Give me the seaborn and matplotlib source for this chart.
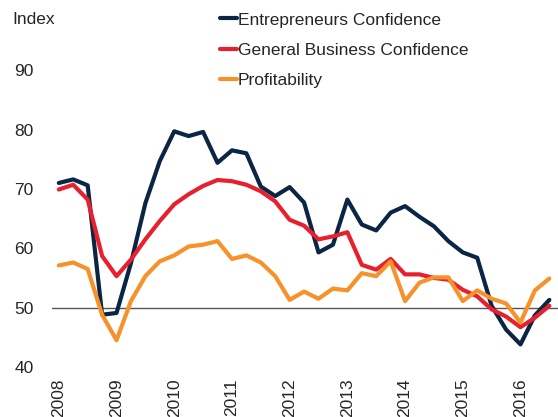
import pandas as pd
import matplotlib
matplotlib.use("Agg")
import matplotlib.pyplot as plt
import seaborn as sns

# quarterly data, 2008 Q1 .. 2016 Q3
quarters = [2008 + q / 4 for q in range(35)]

entrepreneurs = [71.0, 71.6, 70.6, 48.8, 49.1, 57.5, 67.6, 74.7, 79.7, 78.9,
                 79.6, 74.4, 76.5, 76.0, 70.4, 68.8, 70.3, 67.7, 59.3, 60.6,
                 68.2, 64.0, 63.0, 66.0, 67.1, 65.3, 63.7, 61.2, 59.3, 58.4,
                 50.3, 46.3, 43.8, 48.7, 51.3]
general_business = [69.9, 70.7, 68.2, 58.7, 55.3, 58.1, 61.5, 64.6, 67.4, 69.1,
                    70.5, 71.5, 71.3, 70.7, 69.6, 67.9, 64.8, 63.8, 61.5, 62.0,
                    62.7, 57.2, 56.4, 58.2, 55.6, 55.6, 55.0, 54.7, 53.0, 51.9,
                    49.7, 48.5, 46.7, 48.3, 50.3]
profitability = [57.1, 57.6, 56.5, 48.8, 44.5, 51.1, 55.3, 57.8, 58.8, 60.3,
                 60.6, 61.2, 58.2, 58.8, 57.6, 55.3, 51.3, 52.7, 51.5, 53.2,
                 52.9, 55.8, 55.3, 57.8, 51.1, 54.2, 55.1, 55.1, 51.1, 52.9,
                 51.5, 50.7, 47.5, 52.9, 54.9]

series_names = ["Entrepreneurs Confidence", "General Business Confidence", "Profitability"]
colors = ["#0b2545", "#e8202e", "#f7922a"]
years = list(range(2008, 2017))
y_ticks = [40, 50, 60, 70, 80, 90]

df = pd.DataFrame({
    "quarter": quarters * 3,
    "value": entrepreneurs + general_business + profitability,
    "series": [n for n in series_names for _ in quarters],
})

sns.set_style("white")
plt.rcParams["font.family"] = ["Liberation Sans", "DejaVu Sans"]

fig = plt.figure(figsize=(5.58, 4.17), dpi=100)
ax = fig.add_axes([0.093, 0.120, 0.907, 0.854])

ax.axhline(50, color="#555555", lw=1, zorder=1)
sns.lineplot(data=df, x="quarter", y="value", hue="series", hue_order=series_names,
             palette=colors, linewidth=3, ax=ax, legend=False, zorder=3)

ax.set_xlim(2007.88, 2016.65)
ax.set_ylim(40, 100)
ax.set_xticks(years)
ax.set_xticklabels([str(y) for y in years], rotation=90, fontsize=12.5)
ax.set_yticks(y_ticks)
ax.set_yticklabels([str(v) for v in y_ticks], fontsize=12.5)
ax.tick_params(axis="y", length=0, pad=13)
ax.tick_params(axis="x", length=0, pad=8)
ax.set_xlabel("")
ax.set_ylabel("")
sns.despine(ax=ax, left=True, bottom=True)

fig.text(0.023, 0.953, "Index", fontsize=12.5, va="center", ha="left")

handles = [plt.Line2D([], [], color=c, lw=3) for c in colors]
fig.legend(handles, series_names, loc="upper left", bbox_to_anchor=(0.381, 0.987),
           frameon=False, fontsize=12.5, handlelength=1.0, handletextpad=0.05,
           labelspacing=0.88, borderaxespad=0)

fig.savefig("out.png", dpi=100)
